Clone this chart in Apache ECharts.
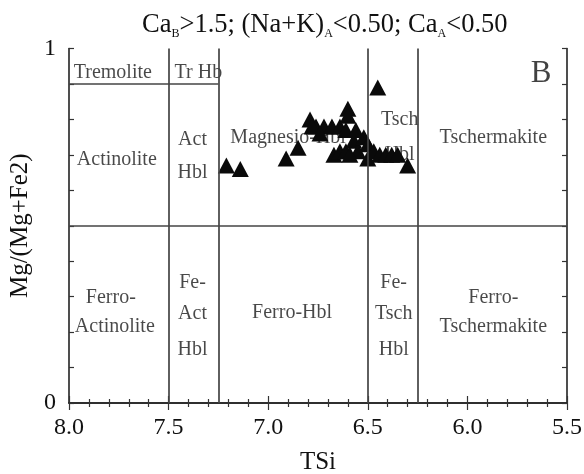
<!DOCTYPE html>
<html>
<head>
<meta charset="utf-8">
<script src="https://cdn.jsdelivr.net/npm/echarts@6/dist/echarts.min.js"></script>
<style>
  html, body { margin: 0; padding: 0; background: #fff; }
  #chart { width: 584px; height: 474px; }
</style>
</head>
<body>
<div id="chart"></div>
<script>
// Amphibole analyses: tetrahedral Si (apfu) and Mg/(Mg+Fe2+)
const tsi = [7.21, 7.14, 6.91, 6.85, 6.79, 6.76, 6.72, 6.68, 6.64, 6.61,
             6.60, 6.60, 6.45, 6.67, 6.64, 6.61, 6.57, 6.55, 6.52, 6.50,
             6.50, 6.47, 6.44, 6.41, 6.38, 6.35, 6.30, 6.59, 6.78, 6.74, 6.56];
const mgNumber = [0.67, 0.66, 0.69, 0.72, 0.80, 0.78, 0.78, 0.78, 0.78, 0.77,
                  0.83, 0.81, 0.89, 0.70, 0.71, 0.71, 0.74, 0.71, 0.75, 0.73,
                  0.69, 0.71, 0.70, 0.70, 0.70, 0.70, 0.67, 0.70, 0.78, 0.76, 0.77];

// Classification field boundaries (calcic amphiboles)
const siBoundaries = [7.5, 7.25, 6.5, 6.25];
const mgBoundary = 0.5;
const tremoliteMg = 0.9;
const tremoliteSiEnd = 7.25;

// Axis ranges
const siRange = [5.5, 8.0];
const mgRange = [0, 1];

// Field names and where they are written
const fieldNames = ['Tremolite', 'Tr Hb', 'Actinolite', 'Act', 'Hbl', 'Magnesio-Hbl',
  'Tsch', 'Hbl', 'Tschermakite', 'Ferro-', 'Actinolite', 'Fe-', 'Act', 'Hbl',
  'Ferro-Hbl', 'Fe-', 'Tsch', 'Hbl', 'Ferro-', 'Tschermakite'];
const fieldSi = [7.78, 7.47, 7.76, 7.38, 7.38, 6.90, 6.34, 6.34, 5.87, 7.79, 7.77,
  7.38, 7.38, 7.38, 6.88, 6.37, 6.37, 6.37, 5.87, 5.87];
const fieldMg = [0.932, 0.932, 0.686, 0.743, 0.650, 0.748, 0.80, 0.70, 0.748, 0.296, 0.214,
  0.339, 0.251, 0.15, 0.254, 0.339, 0.251, 0.15, 0.296, 0.214];

const serif = '"Liberation Serif", "Times New Roman", serif';
const ink = '#111';
const fieldLine = { color: '#444', width: 1.7, type: 'solid' };

// serif rich-text styles shared by axis labels and names
const richSerif = {
  t: { fontFamily: serif, fontSize: 24, fontWeight: 'normal', color: ink },
  nm: { fontFamily: serif, fontSize: 25, fontWeight: 'normal', color: ink }
};
const tagged = (style, s) => (s === '' ? '' : '{' + style + '|' + s + '}');

const chart = echarts.init(document.getElementById('chart'), null, { renderer: 'canvas' });

const labelData = fieldNames.map((name, i) => {
  const item = { value: [fieldSi[i], fieldMg[i], name] };
  if (name === 'Tr Hb') item.label = { align: 'left' };
  return item;
});

const boundaryLines = siBoundaries.map(v => ({ xAxis: v }));
boundaryLines.push({ yAxis: mgBoundary });
boundaryLines.push([{ coord: [siRange[1], tremoliteMg] }, { coord: [tremoliteSiEnd, tremoliteMg] }]);

chart.setOption({
  backgroundColor: '#fff',
  animation: false,
  title: {
    text: '{n|Ca}{s|B}{n|>1.5; (Na+K)}{s|A}{n|<0.50; Ca}{s|A}{n|<0.50}',
    left: 142,
    top: 10,
    padding: 0,
    textStyle: {
      fontWeight: 'normal',
      rich: {
        n: { fontFamily: serif, fontSize: 26.5, fontWeight: 'normal', color: ink, lineHeight: 30 },
        s: { fontFamily: serif, fontSize: 12, fontWeight: 'normal', color: ink, lineHeight: 12, verticalAlign: 'bottom' }
      }
    }
  },
  grid: { left: 69, right: 17, top: 48.5, bottom: 71, outerBoundsMode: 'none', containLabel: false },
  xAxis: [{
    type: 'value', min: siRange[0], max: siRange[1], interval: 0.5, inverse: true,
    name: tagged('nm', 'TSi'), nameLocation: 'middle', nameGap: 47,
    nameTextStyle: { rich: richSerif },
    axisLine: { lineStyle: { color: '#222', width: 1.6 } },
    axisTick: { inside: true, length: 7, lineStyle: { color: '#333', width: 1.2 } },
    minorTick: { show: true, splitNumber: 5, length: 4, lineStyle: { color: '#333', width: 1.2 } },
    axisLabel: { margin: 13, rich: richSerif, formatter: v => tagged('t', v.toFixed(1)) },
    splitLine: { show: false }
  }, {
    type: 'value', position: 'top', min: siRange[0], max: siRange[1], interval: 0.5, inverse: true,
    axisLine: { lineStyle: { color: '#222', width: 1.6 } },
    axisTick: { inside: true, length: 7, lineStyle: { color: '#333', width: 1.2 } },
    minorTick: { show: true, splitNumber: 5, length: 4, lineStyle: { color: '#333', width: 1.2 } },
    axisLabel: { show: false },
    splitLine: { show: false }
  }],
  yAxis: [{
    type: 'value', min: mgRange[0], max: mgRange[1], interval: 0.1,
    name: tagged('nm', 'Mg/(Mg+Fe2)'), nameLocation: 'middle', nameGap: 34, nameRotate: 90,
    nameTextStyle: { rich: richSerif },
    axisLine: { lineStyle: { color: '#222', width: 1.6 } },
    axisTick: { inside: true, length: 5, lineStyle: { color: '#333', width: 1.2 } },
    axisLabel: {
      margin: 13, rich: richSerif,
      formatter: v => tagged('t', Math.abs(v) < 1e-9 ? '0' : Math.abs(v - 1) < 1e-9 ? '1' : '')
    },
    splitLine: { show: false }
  }, {
    type: 'value', position: 'right', min: mgRange[0], max: mgRange[1], interval: 0.1,
    axisLine: { lineStyle: { color: '#222', width: 1.6 } },
    axisTick: { inside: true, length: 5, lineStyle: { color: '#333', width: 1.2 } },
    axisLabel: { show: false },
    splitLine: { show: false }
  }],
  series: [{
    name: 'fields',
    type: 'scatter',
    data: labelData,
    symbolSize: 0,
    silent: true,
    z: 1,
    label: {
      show: true, position: 'inside', fontFamily: serif, fontSize: 20, color: '#1a1a1a',
      formatter: p => p.value[2]
    },
    markLine: {
      silent: true, symbol: 'none', label: { show: false },
      lineStyle: fieldLine,
      data: boundaryLines
    }
  }, {
    name: 'B',
    type: 'scatter',
    data: [[5.63, 0.928]],
    symbolSize: 0,
    silent: true,
    z: 1,
    label: { show: true, position: 'inside', fontFamily: serif, fontSize: 31, color: '#111', formatter: 'B' }
  }, {
    name: 'samples',
    type: 'scatter',
    z: 3,
    data: tsi.map((v, i) => [v, mgNumber[i]]),
    symbol: 'triangle',
    symbolSize: [17, 16],
    itemStyle: { color: '#0a0a0a', opacity: 1 }
  }]
});
</script>
</body>
</html>
